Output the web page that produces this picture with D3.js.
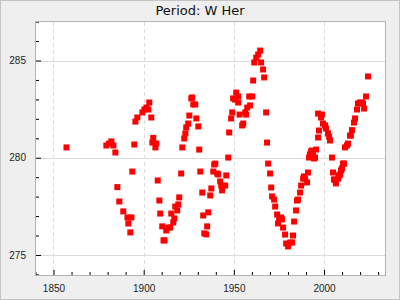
<!DOCTYPE html>
<meta charset="utf-8">
<style>
body { margin: 0; }
svg { display: block; font-family: "DejaVu Sans", sans-serif; }
.tick text { font-size: 10px; fill: #222; }
</style>
<body>
<script src="https://d3js.org/d3.v7.min.js"></script>
<script>

var title = "Period: W Her";

var years = [1857.2, 1879.3, 1880.8, 1882.1, 1883.2, 1884.3, 1885.4, 1886.5, 1888.7, 1891.0,
  1891.5, 1892.6, 1893.2, 1893.7, 1894.8, 1895.4, 1896.5, 1899.3, 1900.4, 1901.5,
  1902.6, 1903.1, 1904.2, 1904.8, 1905.3, 1906.5, 1907.0, 1907.8, 1908.7, 1909.2,
  1910.3, 1911.0, 1911.6, 1912.5, 1913.6, 1914.7, 1915.3, 1916.4, 1917.0, 1917.5,
  1918.6, 1919.2, 1919.7, 1920.8, 1921.4, 1922.5, 1923.1, 1923.6, 1924.7, 1925.3,
  1926.4, 1926.9, 1927.5, 1928.6, 1929.2, 1930.3, 1930.8, 1931.4, 1932.5, 1933.0,
  1933.6, 1934.7, 1935.2, 1935.8, 1936.9, 1937.5, 1938.6, 1939.1, 1939.7, 1940.8,
  1941.3, 1942.4, 1943.0, 1943.5, 1945.2, 1945.8, 1946.9, 1947.4, 1948.5, 1949.1,
  1949.6, 1950.7, 1951.3, 1952.4, 1952.4, 1953.2, 1954.6, 1955.2, 1956.3, 1956.8,
  1957.4, 1958.5, 1959.0, 1960.2, 1960.7, 1961.3, 1962.4, 1963.5, 1964.6, 1965.1,
  1966.2, 1966.8, 1967.9, 1968.4, 1969.0, 1970.1, 1970.7, 1971.2, 1972.3, 1972.9,
  1974.0, 1974.5, 1975.1, 1976.2, 1976.7, 1977.3, 1978.4, 1979.0, 1980.1, 1981.2,
  1982.3, 1982.8, 1983.4, 1984.5, 1985.0, 1985.6, 1986.7, 1987.3, 1988.4, 1988.9,
  1989.5, 1990.6, 1991.1, 1991.7, 1992.2, 1992.8, 1993.3, 1993.9, 1994.5, 1995.0,
  1995.6, 1996.7, 1996.7, 1997.2, 1998.3, 1998.9, 1999.4, 2000.6, 2001.1, 2002.2,
  2002.8, 2003.3, 2004.4, 2005.0, 2005.5, 2006.1, 2006.6, 2007.8, 2008.3, 2008.9,
  2009.4, 2010.0, 2010.5, 2011.1, 2011.6, 2012.7, 2013.3, 2014.4, 2014.9, 2015.5,
  2016.6, 2017.2, 2018.3, 2018.8, 2019.9, 2021.1, 2021.6, 2022.2, 2023.3, 2024.4];

var periods = [280.53, 280.63, 280.73, 280.84, 280.63, 280.27, 278.49, 277.75, 277.24, 276.93,
  276.62, 276.16, 276.93, 279.29, 280.68, 281.86, 282.07, 282.33, 282.48, 282.58,
  282.48, 282.84, 282.07, 280.78, 281.02, 280.53, 280.73, 278.83, 277.80, 277.13,
  276.47, 275.75, 275.75, 276.26, 276.41, 276.41, 277.13, 276.67, 276.88, 277.49,
  277.29, 277.60, 277.96, 279.19, 280.53, 280.99, 281.25, 281.56, 281.76, 282.17,
  283.05, 283.10, 282.74, 282.74, 282.02, 281.61, 280.42, 279.29, 278.21, 277.03,
  276.11, 276.06, 276.47, 277.19, 278.06, 278.42, 279.29, 279.65, 279.70, 279.19,
  279.14, 278.78, 278.57, 278.32, 278.57, 279.09, 280.01, 281.30, 282.02, 282.33,
  283.05, 282.99, 283.35, 283.15, 282.84, 282.22, 281.66, 281.76, 282.33, 282.22,
  282.58, 283.15, 282.69, 283.15, 283.97, 284.90, 285.15, 285.31, 285.51, 284.90,
  284.54, 284.13, 282.33, 280.78, 279.70, 279.19, 278.47, 278.01, 277.85, 277.49,
  277.08, 276.62, 276.88, 276.93, 276.83, 276.41, 276.05, 275.59, 275.44, 275.64,
  275.64, 276.00, 276.72, 277.29, 277.80, 277.85, 278.21, 278.57, 278.93, 279.04,
  278.93, 278.73, 279.24, 280.01, 280.17, 280.32, 280.37, 280.12, 279.96, 280.01,
  280.42, 281.04, 282.27, 281.40, 282.07, 282.22, 281.76, 281.66, 281.50, 281.25,
  281.09, 280.89, 280.01, 279.24, 278.88, 278.88, 278.68, 278.93, 279.09, 279.14,
  279.35, 279.45, 279.70, 279.70, 280.53, 280.63, 280.73, 281.14, 281.14, 281.42,
  281.81, 282.02, 282.48, 282.79, 282.84, 282.84, 282.79, 282.53, 283.15, 284.18];

var xMajor = [1850, 1900, 1950, 2000];
var xMinor = [1840, 1860, 1870, 1880, 1890, 1910, 1920, 1930, 1940, 1960, 1970, 1980, 1990, 2010, 2020, 2030];
var yMajor = [275, 280, 285];
var yMinor = [274, 276, 277, 278, 279, 281, 282, 283, 284, 286, 287];

var W = 400, H = 300;
var margin = {top: 22, right: 15, bottom: 25, left: 36},
    width = W - margin.left - margin.right,
    height = H - margin.top - margin.bottom;

var x = d3.scaleLinear().domain([1840.3, 2033.8]).range([0, width]);
var y = d3.scaleLinear().domain([273.97, 286.98]).range([height, 0]);

var svg = d3.select("body").append("svg")
    .attr("width", W)
    .attr("height", H);

svg.append("rect")
    .attr("x", 0.5).attr("y", 0.5)
    .attr("width", W - 1).attr("height", H - 1)
    .attr("fill", "#efefef")
    .attr("stroke", "#c4c4c4");

svg.append("text")
    .attr("x", W / 2)
    .attr("y", 15)
    .attr("text-anchor", "middle")
    .style("font-size", "13px")
    .attr("fill", "#111")
    .text(title);

var g = svg.append("g")
    .attr("transform", "translate(" + margin.left + "," + margin.top + ")");

g.append("rect")
    .attr("width", width)
    .attr("height", height)
    .attr("fill", "#fff");

// grid
g.selectAll(".vgrid")
    .data(xMajor)
  .enter().append("line")
    .attr("x1", function(d) { return Math.round(x(d)) + 0.5; })
    .attr("x2", function(d) { return Math.round(x(d)) + 0.5; })
    .attr("y1", 0).attr("y2", height)
    .attr("stroke", "#dcdcdc")
    .attr("stroke-dasharray", "4,3");

g.selectAll(".hgrid")
    .data(yMajor)
  .enter().append("line")
    .attr("y1", function(d) { return Math.round(y(d)) + 0.5; })
    .attr("y2", function(d) { return Math.round(y(d)) + 0.5; })
    .attr("x1", 0).attr("x2", width)
    .attr("stroke", "#dcdcdc");

// axes, ticks pointing inward
var xAxis = g.append("g")
    .attr("transform", "translate(0," + height + ")")
    .call(d3.axisBottom(x).tickValues(xMajor).tickFormat(d3.format("d")).tickSizeInner(-5).tickSizeOuter(0).tickPadding(10));
var xAxisMinor = g.append("g")
    .attr("transform", "translate(0," + height + ")")
    .call(d3.axisBottom(x).tickValues(xMinor).tickFormat("").tickSizeInner(-3).tickSizeOuter(0));

var yAxis = g.append("g")
    .call(d3.axisLeft(y).tickValues(yMajor).tickFormat(d3.format("d")).tickSizeInner(-5).tickSizeOuter(0).tickPadding(10));
var yAxisMinor = g.append("g")
    .call(d3.axisLeft(y).tickValues(yMinor).tickFormat("").tickSizeInner(-3).tickSizeOuter(0));

g.selectAll(".domain").remove();
g.selectAll(".tick line").attr("stroke", "#000");

g.selectAll(".dot")
    .data(years.map(function(d, i) { return [d, periods[i]]; }))
  .enter().append("rect")
    .attr("x", function(d) { return x(d[0]) - 3; })
    .attr("y", function(d) { return y(d[1]) - 3; })
    .attr("width", 6)
    .attr("height", 6)
    .attr("fill", "#ff0000");

g.append("rect")
    .attr("x", -0.5).attr("y", -0.5)
    .attr("width", width + 1)
    .attr("height", height + 1)
    .attr("fill", "none")
    .attr("stroke", "#b4b4b4");

</script>
